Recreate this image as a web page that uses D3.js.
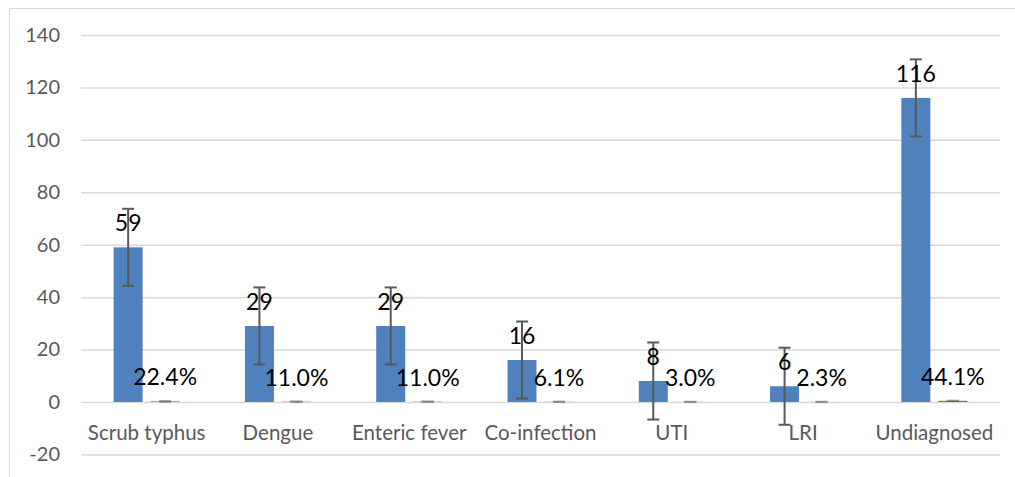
<!DOCTYPE html>
<html>
<head>
<meta charset="utf-8">
<script src="https://cdn.jsdelivr.net/npm/d3@7"></script>
<style>
  body { margin: 0; background: #fff; }
  text { font-family: Lato, "Open Sans", sans-serif; }
</style>
</head>
<body>
<svg id="chart" width="1015" height="477"></svg>
<script>
// chart data
const categories = ['Scrub typhus', 'Dengue', 'Enteric fever', 'Co-infection', 'UTI', 'LRI', 'Undiagnosed'];
const counts = [59, 29, 29, 16, 8, 6, 116];
const percents = [0.224, 0.110, 0.110, 0.061, 0.030, 0.023, 0.441];
const countErrors = [14.7, 14.7, 14.7, 14.7, 14.7, 14.7, 14.7];
const percentErrors = [0.056, 0.056, 0.056, 0.056, 0.056, 0.056, 0.056];
const yTicks = [-20, 0, 20, 40, 60, 80, 100, 120, 140];

const svg = d3.select('#chart');
const plotLeft = 81, plotRight = 1000, plotTop = 35, plotBottom = 454.4;

// chart frame
svg.append('rect')
  .attr('x', 9.5)
  .attr('y', 8.5)
  .attr('width', 1012)
  .attr('height', 480)
  .attr('fill', '#fff')
  .attr('stroke', '#d9d9d9')
  .attr('stroke-width', 1);

const x = d3.scaleBand().domain(categories).range([plotLeft, plotRight]);
const y = d3.scaleLinear().domain([-20, 140]).range([plotBottom, plotTop]);
const barW = 29;
const shift = 18.5;

// gridlines + y labels (plain hyphen for negatives, like the source)
const yAxis = svg.append('g')
  .attr('transform', `translate(${plotLeft},0)`)
  .call(d3.axisLeft(y)
    .tickValues(yTicks)
    .tickFormat((d) => String(d))
    .tickSize(-(plotRight - plotLeft))
    .tickPadding(21));
yAxis.select('.domain').remove();
yAxis.selectAll('line').attr('stroke', '#d9d9d9').attr('stroke-width', 1.5);
yAxis.selectAll('text')
  .attr('fill', '#595959')
  .style('font-size', '20px');

// category labels
const xAxis = svg.append('g')
  .attr('transform', `translate(0,${y(0)})`)
  .call(d3.axisBottom(x).tickSize(0).tickPadding(23));
xAxis.select('.domain').remove();
xAxis.selectAll('text')
  .attr('fill', '#595959')
  .style('font-size', '20.5px');

const rows = categories.map((c, i) => ({
  cat: c,
  count: counts[i],
  pct: percents[i],
  cErr: countErrors[i],
  pErr: percentErrors[i]
}));
const cx = (d) => x(d.cat) + x.bandwidth() / 2;

// count bars
svg.append('g').selectAll('rect')
  .data(rows)
  .join('rect')
  .attr('x', (d) => cx(d) - shift - barW / 2)
  .attr('y', (d) => y(d.count))
  .attr('width', barW)
  .attr('height', (d) => y(0) - y(d.count))
  .attr('fill', '#4f81bd');

// percent bars (tiny, on the same axis)
svg.append('g').selectAll('rect')
  .data(rows)
  .join('rect')
  .attr('x', (d) => cx(d) + shift - barW / 2)
  .attr('y', (d) => y(d.pct))
  .attr('width', barW)
  .attr('height', (d) => y(0) - y(d.pct))
  .attr('fill', '#c0504d');

// error bars
const errorBar = function (g, xFn, vKey, eKey) {
  const e = g.selectAll('g')
    .data(rows)
    .join('g')
    .attr('stroke', '#595959')
    .attr('stroke-width', 2);
  e.append('line')
    .attr('x1', xFn).attr('x2', xFn)
    .attr('y1', (d) => y(d[vKey] + d[eKey]))
    .attr('y2', (d) => y(d[vKey] - d[eKey]));
  [1, -1].forEach((s) => {
    e.append('line')
      .attr('x1', (d) => xFn(d) - 6).attr('x2', (d) => xFn(d) + 6)
      .attr('y1', (d) => y(d[vKey] + s * d[eKey]))
      .attr('y2', (d) => y(d[vKey] + s * d[eKey]));
  });
};
errorBar(svg.append('g'), (d) => cx(d) - shift, 'count', 'cErr');
errorBar(svg.append('g').attr('opacity', 0.6), (d) => cx(d) + shift, 'pct', 'pErr');

// data labels
svg.append('g').selectAll('text')
  .data(rows)
  .join('text')
  .attr('x', (d) => cx(d) - shift)
  .attr('y', (d) => y(d.count) - 16)
  .attr('text-anchor', 'middle')
  .style('font-size', '23px')
  .text((d) => d.count);

svg.append('g').selectAll('text')
  .data(rows)
  .join('text')
  .attr('x', (d) => cx(d) + shift)
  .attr('y', (d) => y(d.pct) - 16)
  .attr('text-anchor', 'middle')
  .style('font-size', '23px')
  .text((d) => d3.format('.1%')(d.pct));
</script>
</body>
</html>
